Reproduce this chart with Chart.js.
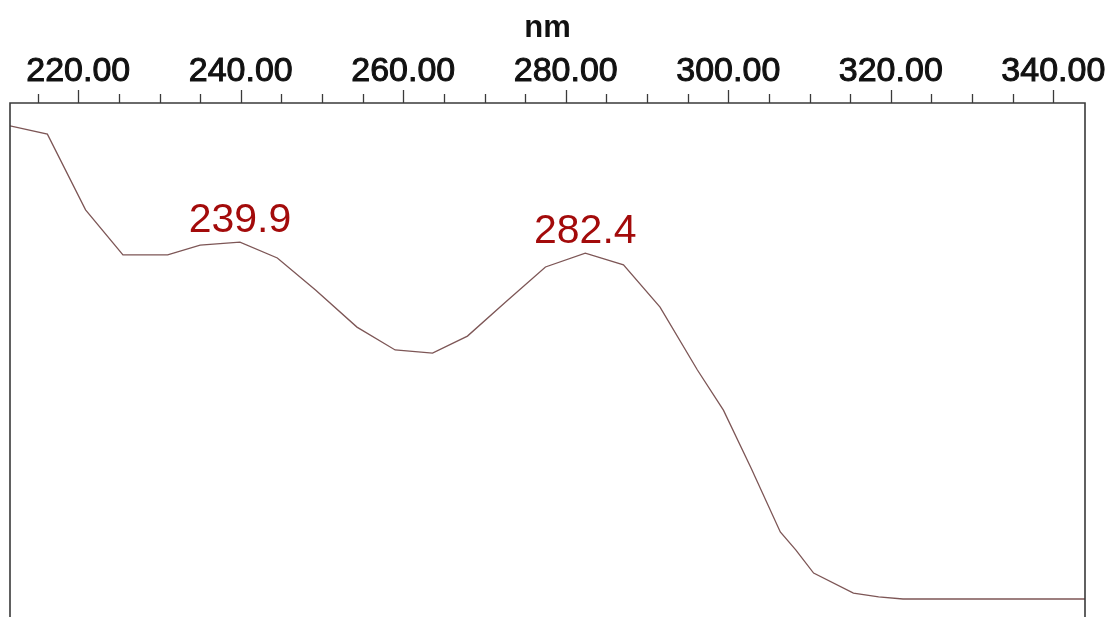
<!DOCTYPE html>
<html>
<head>
<meta charset="utf-8">
<script src="https://cdn.jsdelivr.net/npm/chart.js@4/dist/chart.umd.min.js"></script>
<style>
  html, body { margin: 0; padding: 0; background: #ffffff; }
  #wrap { width: 1107px; height: 617px; }
</style>
</head>
<body>
<div id="wrap"><canvas id="spectrum" width="1107" height="617"></canvas></div>
<script>
// UV absorption spectrum: wavelength (nm) vs absorbance
const wavelengths = [211.6, 216.2, 220.9, 225.5, 231.0, 235.0, 239.9, 244.5, 249.2, 254.3,
                     259.0, 263.6, 267.9, 272.6, 277.5, 282.4, 287.1, 291.6, 296.2, 299.4,
                     302.8, 306.4, 308.3, 310.5, 315.4, 318.5, 321.5, 330.0, 343.9];
const absorbance  = [1.911, 1.879, 1.584, 1.409, 1.409, 1.447, 1.459, 1.397, 1.272, 1.128,
                     1.039, 1.027, 1.093, 1.226, 1.362, 1.416, 1.370, 1.206, 0.961, 0.805,
                     0.580, 0.331, 0.261, 0.171, 0.093, 0.078, 0.070, 0.070, 0.070];

// Annotated absorption maxima
const peakWavelengths = [239.9, 282.4];

// Axis tick positions (nm)
const majorTicks = [220, 240, 260, 280, 300, 320, 340];
const minorTicks = [215, 225, 230, 235, 245, 250, 255, 265, 270, 275, 285, 290, 295,
                    305, 310, 315, 325, 330, 335];

const xRange = [211.6, 343.9];
const yRange = [0, 2];

const frameColor = '#3a3a3a';

// Frame (left, top, right) plus major/minor tick marks on the top axis
const framePlugin = {
  id: 'frameTicks',
  afterDraw(chart) {
    const { ctx, chartArea: a, scales: { x } } = chart;
    ctx.save();
    ctx.strokeStyle = frameColor;
    ctx.lineWidth = 1.6;
    ctx.beginPath();
    ctx.moveTo(a.left, chart.height + 2);
    ctx.lineTo(a.left, a.top);
    ctx.lineTo(a.right, a.top);
    ctx.lineTo(a.right, chart.height + 2);
    ctx.stroke();

    ctx.lineWidth = 1.3;
    ctx.beginPath();
    majorTicks.forEach(v => {
      const px = Math.round(x.getPixelForValue(v)) + 0.5;
      ctx.moveTo(px, a.top);
      ctx.lineTo(px, a.top - 13);
    });
    minorTicks.forEach(v => {
      const px = Math.round(x.getPixelForValue(v)) + 0.5;
      ctx.moveTo(px, a.top);
      ctx.lineTo(px, a.top - 9);
    });
    ctx.stroke();
    ctx.restore();
  }
};

// Wavelength labels above the absorption maxima
const peakLabelPlugin = {
  id: 'peakLabels',
  afterDatasetsDraw(chart) {
    const { ctx, scales: { x, y } } = chart;
    ctx.save();
    ctx.font = '41px "Liberation Sans", Arial, sans-serif';
    ctx.fillStyle = '#a30b0b';
    ctx.textAlign = 'center';
    ctx.textBaseline = 'alphabetic';
    peakWavelengths.forEach(nm => {
      const i = wavelengths.indexOf(nm);
      const px = x.getPixelForValue(nm);
      const py = y.getPixelForValue(absorbance[i]);
      ctx.fillText(nm.toFixed(1), px, py - 10);
    });
    ctx.restore();
  }
};

new Chart(document.getElementById('spectrum'), {
  type: 'line',
  data: {
    datasets: [{
      data: wavelengths.map((w, i) => ({ x: w, y: absorbance[i] })),
      borderColor: '#7d5656',
      borderWidth: 1.3,
      pointRadius: 0,
      tension: 0,
      fill: false
    }]
  },
  options: {
    responsive: false,
    animation: false,
    events: [],
    layout: { padding: { left: 10, right: 22, top: 0, bottom: 0 } },
    plugins: { legend: { display: false }, tooltip: { enabled: false } },
    scales: {
      x: {
        type: 'linear',
        position: 'top',
        min: xRange[0],
        max: xRange[1],
        grid: { display: false },
        border: { display: false },
        ticks: {
          stepSize: 20,
          includeBounds: false,
          autoSkip: false,
          maxRotation: 0,
          padding: 3,
          color: '#111111',
          textStrokeColor: '#111111',
          textStrokeWidth: 1,
          font: { family: '"Liberation Sans", Arial, sans-serif', size: 34, weight: 'normal' },
          callback: v => Number(v).toFixed(2)
        },
        title: {
          display: true,
          text: 'nm',
          color: '#111111',
          padding: { top: 10, bottom: 0 },
          font: { family: '"Liberation Sans", Arial, sans-serif', size: 31, weight: 'bold' }
        },
        afterFit(scale) {
          scale.height = 103;
          scale.paddingLeft = 0;
          scale.paddingRight = 0;
        }
      },
      y: {
        type: 'linear',
        display: false,
        min: yRange[0],
        max: yRange[1]
      }
    }
  },
  plugins: [framePlugin, peakLabelPlugin]
});
</script>
</body>
</html>
